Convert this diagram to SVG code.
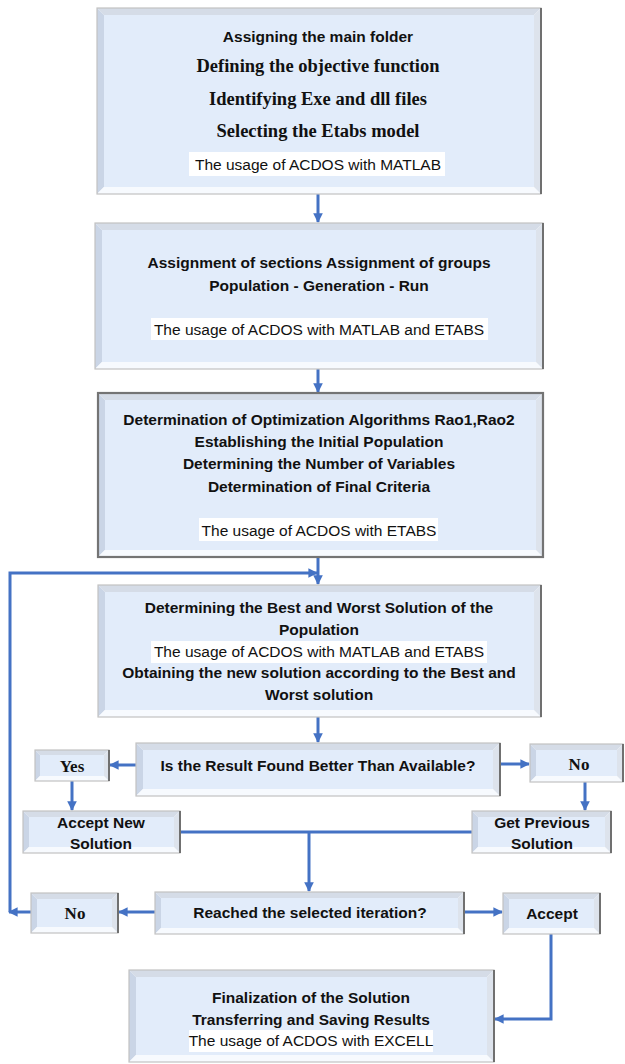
<svg xmlns="http://www.w3.org/2000/svg" width="625" height="1064" viewBox="0 0 625 1064">
<style>
.bt{fill:#D5DCE7}
.bl{fill:#CAD5E6}
.bb{fill:#F7FAFE}
.br{fill:#DDE3EC}
.face{fill:#E2ECFA}
.ol{fill:none;stroke:#C2C2C2;stroke-width:1.2}
.er{stroke:#707070;stroke-width:2}
.hl{fill:#FFFFFF}
.b{font-family:"Liberation Sans",Arial,sans-serif;font-weight:bold;font-size:15.5px;fill:#111;text-anchor:middle}
.r{font-family:"Liberation Sans",Arial,sans-serif;font-size:15.5px;fill:#111;text-anchor:middle}
.t{font-family:"Liberation Serif","Times New Roman",serif;font-weight:bold;font-size:18.5px;fill:#111;text-anchor:middle}
.c{fill:none;stroke:#4472C4;stroke-width:3}
</style>
<defs>
<marker id="arr" viewBox="0 0 10 10" refX="9" refY="5" markerWidth="3.4" markerHeight="3.2" orient="auto">
<path d="M0,0 L10,5 L0,10 z" fill="#4472C4"/>
</marker>
</defs>
<rect width="625" height="1064" fill="#FFFFFF"/>

<g id="connectors">
<path class="c" d="M318,194 V222" marker-end="url(#arr)"/>
<path class="c" d="M318,369 V392" marker-end="url(#arr)"/>
<path class="c" d="M318,557 V584" marker-end="url(#arr)"/>
<path class="c" d="M318,717 V742" marker-end="url(#arr)"/>
<path class="c" d="M136,765 H110" marker-end="url(#arr)"/>
<path class="c" d="M500,764 H529" marker-end="url(#arr)"/>
<path class="c" d="M72,781 V810" marker-end="url(#arr)"/>
<path class="c" d="M585,782 V810" marker-end="url(#arr)"/>
<path class="c" d="M180,832 H472"/>
<path class="c" d="M309,832 V891" marker-end="url(#arr)"/>
<path class="c" d="M155,912 H119" marker-end="url(#arr)"/>
<path class="c" d="M464,912 H502" marker-end="url(#arr)"/>
<path class="c" d="M31,912 H9" marker-end="url(#arr)"/>
<path class="c" d="M10,912 V573 H317" marker-end="url(#arr)"/>
<path class="c" d="M551,934 V1019 H495" marker-end="url(#arr)"/>
</g>

<g id="box1">
<polygon class="bt" points="97,8 541,8 534,15 104,15"/>
<polygon class="bl" points="97,8 104,15 104,187 97,194"/>
<polygon class="bb" points="97,194 104,187 534,187 541,194"/>
<polygon class="br" points="541,8 541,194 534,187 534,15"/>
<rect class="face" x="104" y="15" width="430" height="172"/>
<rect class="ol" x="97" y="8" width="444" height="186"/>
<line class="er" x1="541" y1="8" x2="541" y2="194"/>
<text class="b" x="318" y="42">Assigning the main folder</text>
<text class="t" x="318" y="72">Defining the objective function</text>
<text class="t" x="318" y="105">Identifying Exe and dll files</text>
<text class="t" x="318" y="137">Selecting the Etabs model</text>
<rect class="hl" x="189" y="152" width="256" height="24"/>
<text class="r" x="318" y="170">The usage of ACDOS with MATLAB</text>
</g>

<g id="box2">
<polygon class="bt" points="95,223 543,223 536,230 102,230"/>
<polygon class="bl" points="95,223 102,230 102,362 95,369"/>
<polygon class="bb" points="95,369 102,362 536,362 543,369"/>
<polygon class="br" points="543,223 543,369 536,362 536,230"/>
<rect class="face" x="102" y="230" width="434" height="132"/>
<rect class="ol" x="95" y="223" width="448" height="146"/>
<line class="er" x1="543" y1="223" x2="543" y2="369"/>
<text class="b" x="319" y="268">Assignment of sections Assignment of groups</text>
<text class="b" x="319" y="291">Population - Generation - Run</text>
<rect class="hl" x="151" y="318" width="337" height="22"/>
<text class="r" x="319" y="335">The usage of ACDOS with MATLAB and ETABS</text>
</g>

<g id="box3">
<polygon class="bt" points="98,393 543,393 536,400 105,400"/>
<polygon class="bl" points="98,393 105,400 105,550 98,557"/>
<polygon class="bb" points="98,557 105,550 536,550 543,557"/>
<polygon class="br" points="543,393 543,557 536,550 536,400"/>
<rect class="face" x="105" y="400" width="431" height="150"/>
<rect class="ol" x="98" y="393" width="445" height="164" style="stroke:#747474;stroke-width:2.2"/>
<text class="b" x="319" y="425">Determination of Optimization Algorithms Rao1,Rao2</text>
<text class="b" x="319" y="447">Establishing the Initial Population</text>
<text class="b" x="319" y="469">Determining the Number of Variables</text>
<text class="b" x="319" y="492">Determination of Final Criteria</text>
<rect class="hl" x="199" y="518" width="239" height="23"/>
<text class="r" x="319" y="536">The usage of ACDOS with ETABS</text>
</g>

<g id="box4">
<polygon class="bt" points="98,585 541,585 534,592 105,592"/>
<polygon class="bl" points="98,585 105,592 105,710 98,717"/>
<polygon class="bb" points="98,717 105,710 534,710 541,717"/>
<polygon class="br" points="541,585 541,717 534,710 534,592"/>
<rect class="face" x="105" y="592" width="429" height="118"/>
<rect class="ol" x="98" y="585" width="443" height="132"/>
<line class="er" x1="541" y1="585" x2="541" y2="717"/>
<text class="b" x="319" y="613">Determining the Best and Worst Solution of the</text>
<text class="b" x="319" y="635">Population</text>
<rect class="hl" x="151" y="641" width="336" height="22"/>
<text class="r" x="319" y="657">The usage of ACDOS with MATLAB and ETABS</text>
<text class="b" x="319" y="678">Obtaining the new solution according to the Best and</text>
<text class="b" x="319" y="700">Worst solution</text>
</g>

<g id="decision">
<polygon class="bt" points="136,743 500,743 493,750 143,750"/>
<polygon class="bl" points="136,743 143,750 143,789 136,796"/>
<polygon class="bb" points="136,796 143,789 493,789 500,796"/>
<polygon class="br" points="500,743 500,796 493,789 493,750"/>
<rect class="face" x="143" y="750" width="350" height="39"/>
<rect class="ol" x="136" y="743" width="364" height="53"/>
<line class="er" x1="500" y1="743" x2="500" y2="796"/>
<text class="b" x="318" y="771">Is the Result Found Better Than Available?</text>
</g>

<g id="yes">
<polygon class="bt" points="35,750 109,750 104,755 40,755"/>
<polygon class="bl" points="35,750 40,755 40,776 35,781"/>
<polygon class="bb" points="35,781 40,776 104,776 109,781"/>
<polygon class="br" points="109,750 109,781 104,776 104,755"/>
<rect class="face" x="40" y="755" width="64" height="21"/>
<rect class="ol" x="35" y="750" width="74" height="31"/>
<line class="er" x1="109" y1="750" x2="109" y2="781"/>
<text class="t" x="72" y="772" style="font-size:17px">Yes</text>
</g>

<g id="no-top">
<polygon class="bt" points="530,744 623,744 617,750 536,750"/>
<polygon class="bl" points="530,744 536,750 536,776 530,782"/>
<polygon class="bb" points="530,782 536,776 617,776 623,782"/>
<polygon class="br" points="623,744 623,782 617,776 617,750"/>
<rect class="face" x="536" y="750" width="81" height="26"/>
<rect class="ol" x="530" y="744" width="93" height="38"/>
<line class="er" x1="623" y1="744" x2="623" y2="782"/>
<text class="t" x="579" y="770" style="font-size:17px">No</text>
</g>

<g id="accept-new">
<polygon class="bt" points="23,811 180,811 174,817 29,817"/>
<polygon class="bl" points="23,811 29,817 29,847 23,853"/>
<polygon class="bb" points="23,853 29,847 174,847 180,853"/>
<polygon class="br" points="180,811 180,853 174,847 174,817"/>
<rect class="face" x="29" y="817" width="145" height="30"/>
<rect class="ol" x="23" y="811" width="157" height="42"/>
<line class="er" x1="180" y1="811" x2="180" y2="853"/>
<text class="b" x="101" y="828">Accept New</text>
<text class="b" x="101" y="849">Solution</text>
</g>

<g id="get-previous">
<polygon class="bt" points="472,811 611,811 605,817 478,817"/>
<polygon class="bl" points="472,811 478,817 478,847 472,853"/>
<polygon class="bb" points="472,853 478,847 605,847 611,853"/>
<polygon class="br" points="611,811 611,853 605,847 605,817"/>
<rect class="face" x="478" y="817" width="127" height="30"/>
<rect class="ol" x="472" y="811" width="139" height="42"/>
<line class="er" x1="611" y1="811" x2="611" y2="853"/>
<text class="b" x="542" y="828">Get Previous</text>
<text class="b" x="542" y="849">Solution</text>
</g>

<g id="reached">
<polygon class="bt" points="155,892 464,892 458,898 161,898"/>
<polygon class="bl" points="155,892 161,898 161,928 155,934"/>
<polygon class="bb" points="155,934 161,928 458,928 464,934"/>
<polygon class="br" points="464,892 464,934 458,928 458,898"/>
<rect class="face" x="161" y="898" width="297" height="30"/>
<rect class="ol" x="155" y="892" width="309" height="42"/>
<line class="er" x1="464" y1="892" x2="464" y2="934"/>
<text class="b" x="310" y="918">Reached the selected iteration?</text>
</g>

<g id="no-bottom">
<polygon class="bt" points="31,893 118,893 112,899 37,899"/>
<polygon class="bl" points="31,893 37,899 37,927 31,933"/>
<polygon class="bb" points="31,933 37,927 112,927 118,933"/>
<polygon class="br" points="118,893 118,933 112,927 112,899"/>
<rect class="face" x="37" y="899" width="75" height="28"/>
<rect class="ol" x="31" y="893" width="87" height="40"/>
<line class="er" x1="118" y1="893" x2="118" y2="933"/>
<text class="t" x="75" y="919" style="font-size:17px">No</text>
</g>

<g id="accept">
<polygon class="bt" points="503,893 600,893 594,899 509,899"/>
<polygon class="bl" points="503,893 509,899 509,928 503,934"/>
<polygon class="bb" points="503,934 509,928 594,928 600,934"/>
<polygon class="br" points="600,893 600,934 594,928 594,899"/>
<rect class="face" x="509" y="899" width="85" height="29"/>
<rect class="ol" x="503" y="893" width="97" height="41"/>
<line class="er" x1="600" y1="893" x2="600" y2="934"/>
<text class="b" x="552" y="919">Accept</text>
</g>

<g id="final">
<polygon class="bt" points="129,970 494,970 487,977 136,977"/>
<polygon class="bl" points="129,970 136,977 136,1055 129,1062"/>
<polygon class="bb" points="129,1062 136,1055 487,1055 494,1062"/>
<polygon class="br" points="494,970 494,1062 487,1055 487,977"/>
<rect class="face" x="136" y="977" width="351" height="78"/>
<rect class="ol" x="129" y="970" width="365" height="92"/>
<line class="er" x1="494" y1="970" x2="494" y2="1062"/>
<text class="b" x="311" y="1003">Finalization of the Solution</text>
<text class="b" x="311" y="1025">Transferring and Saving Results</text>
<rect class="hl" x="189" y="1030" width="244" height="22"/>
<text class="r" x="311" y="1046">The usage of ACDOS with EXCELL</text>
</g>
</svg>
